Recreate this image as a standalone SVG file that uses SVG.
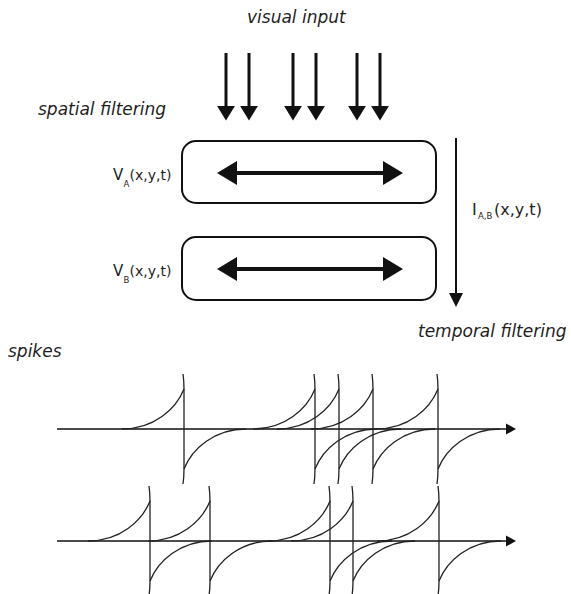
<svg xmlns="http://www.w3.org/2000/svg" xmlns:xlink="http://www.w3.org/1999/xlink" width="571" height="594" viewBox="0 0 571 594">
<style>
.lbl{font-family:"DejaVu Sans","Liberation Sans",sans-serif;fill:#1e1e1e}
.it{font-style:italic;font-size:17px}
.sub{font-size:8.5px}
.box{fill:none;stroke:#111;stroke-width:2}
.thick{stroke:#111;fill:none}
.sp{fill:none;stroke:#222;stroke-width:1.3}
</style>
<defs>
<marker id="hDown" markerUnits="userSpaceOnUse" markerWidth="20" markerHeight="20" viewBox="0 -9 14 18" refX="0" refY="0" orient="auto"><path d="M0,-8 L13,0 L0,8 z" fill="#111"/></marker>
<marker id="hDbl" markerUnits="userSpaceOnUse" markerWidth="24" markerHeight="26" viewBox="0 -13 21 26" refX="0" refY="0" orient="auto-start-reverse"><path d="M0,-12 L20,0 L0,12 z" fill="#111"/></marker>
<marker id="hV" markerUnits="userSpaceOnUse" markerWidth="16" markerHeight="16" viewBox="0 -8 15 16" refX="0" refY="0" orient="auto"><path d="M0,-7 L14,0 L0,7 z" fill="#111"/></marker>
<marker id="hAx" markerUnits="userSpaceOnUse" markerWidth="12" markerHeight="12" viewBox="0 -6 11 12" refX="0" refY="0" orient="auto"><path d="M0,-5.5 L10,0 L0,5.5 z" fill="#111"/></marker>
<g id="spike" class="sp">
<path d="M-1,-55 Q0,-48 0,-40 L0,40 Q0,48 -1,55"/>
<path d="M-62,0 C-30,0 -8,-20 0,-40"/>
<path d="M0,40 C8,20 30,0 62,0"/>
</g>
</defs>

<g id="labels">
<text class="lbl it" x="247" y="23">visual input</text>
<text class="lbl it" x="38" y="115">spatial filtering</text>
<text class="lbl it" x="418" y="337">temporal filtering</text>
<text class="lbl it" x="8" y="357">spikes</text>
</g>

<g id="input-arrows" class="thick" stroke-width="3">
<line x1="226" y1="53" x2="226" y2="106" marker-end="url(#hDown)"/>
<line x1="249" y1="53" x2="249" y2="106" marker-end="url(#hDown)"/>
<line x1="293" y1="53" x2="293" y2="106" marker-end="url(#hDown)"/>
<line x1="316" y1="53" x2="316" y2="106" marker-end="url(#hDown)"/>
<line x1="357" y1="53" x2="357" y2="106" marker-end="url(#hDown)"/>
<line x1="380" y1="53" x2="380" y2="106" marker-end="url(#hDown)"/>
</g>

<g id="nodeA">
<rect class="box" x="182" y="141" width="254" height="62" rx="14"/>
<line class="thick" stroke-width="4" x1="237" y1="173" x2="383" y2="173" marker-start="url(#hDbl)" marker-end="url(#hDbl)"/>
<text class="lbl" font-size="15" x="113" y="180">V</text>
<text class="lbl sub" x="123.5" y="187">A</text>
<text class="lbl" font-size="14" x="129.5" y="180">(x,y,t)</text>
</g>

<g id="nodeB">
<rect class="box" x="182" y="237" width="254" height="63" rx="14"/>
<line class="thick" stroke-width="4" x1="237" y1="269" x2="383" y2="269" marker-start="url(#hDbl)" marker-end="url(#hDbl)"/>
<text class="lbl" font-size="15" x="113" y="276">V</text>
<text class="lbl sub" x="123.5" y="283">B</text>
<text class="lbl" font-size="14" x="129.5" y="276">(x,y,t)</text>
</g>

<g id="temporal">
<line class="thick" stroke-width="2" x1="456" y1="138" x2="456" y2="293" marker-end="url(#hV)"/>
<text class="lbl" font-size="16" x="472" y="215">I</text>
<text class="lbl sub" x="478" y="219">A,B</text>
<text class="lbl" font-size="16" x="494" y="215">(x,y,t)</text>
</g>

<g id="connectors">
<line class="thick" stroke-width="1.5" x1="57" y1="429" x2="506" y2="429" marker-end="url(#hAx)"/>
<line class="thick" stroke-width="1.5" x1="57" y1="541" x2="506" y2="541" marker-end="url(#hAx)"/>
</g>

<g id="train1">
<use xlink:href="#spike" x="184" y="429"/>
<use xlink:href="#spike" x="315" y="429"/>
<use xlink:href="#spike" x="339" y="429"/>
<use xlink:href="#spike" x="373" y="429"/>
<use xlink:href="#spike" x="438" y="429"/>
</g>
<g id="train2">
<use xlink:href="#spike" x="150" y="541"/>
<use xlink:href="#spike" x="210" y="541"/>
<use xlink:href="#spike" x="330" y="541"/>
<use xlink:href="#spike" x="353" y="541"/>
<use xlink:href="#spike" x="439" y="541"/>
</g>
</svg>
